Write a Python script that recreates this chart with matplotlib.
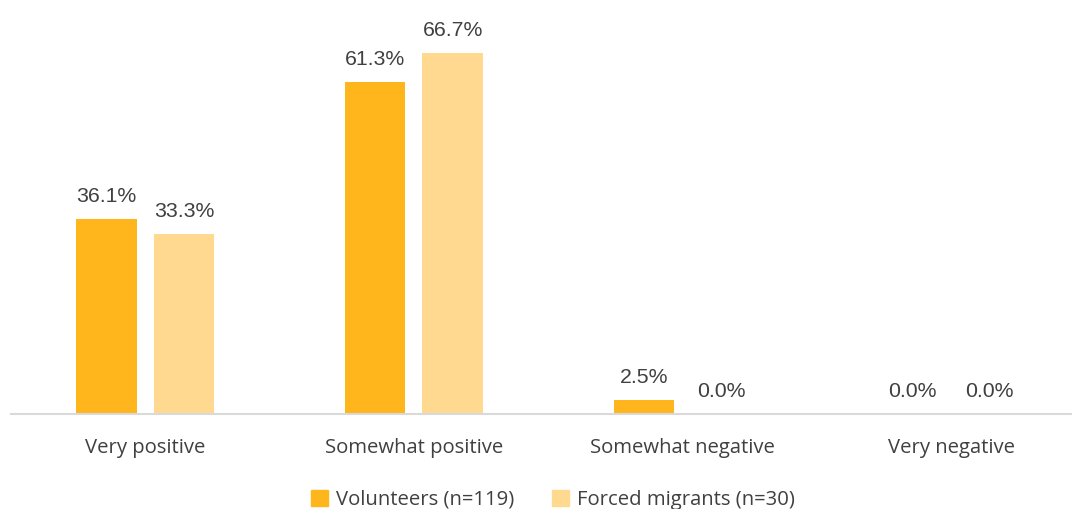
import numpy as np
import matplotlib.pyplot as plt
from matplotlib.patches import Patch

categories = ["Very positive", "Somewhat positive", "Somewhat negative", "Very negative"]
volunteers = [36.1, 61.3, 2.5, 0.0]
migrants = [33.3, 66.7, 0.0, 0.0]
series_names = ["Volunteers (n=119)", "Forced migrants (n=30)"]

c_dark = "#FFB61C"
c_light = "#FFD98F"
txt = "#404040"

fig = plt.figure(figsize=(10.72, 5.09), dpi=100)
ax = fig.add_axes([11 / 1072, 95 / 509, 1 - 11 / 1072, 414 / 509])

x = np.arange(len(categories))
off = 0.144
w = 0.225
b1 = ax.bar(x - off, volunteers, w, color=c_dark)
b2 = ax.bar(x + off, migrants, w, color=c_light)

for bars, vals in [(b1, volunteers), (b2, migrants)]:
    for r, v in zip(bars, vals):
        ax.annotate(f"{v:.1f}%", (r.get_x() + r.get_width() / 2, v),
                    xytext=(0, 9.5), textcoords="offset points", ha="center", va="bottom",
                    fontsize=15.3, color=txt, family="Liberation Sans")

ax.set_xlim(-0.5, 3.45)
ax.set_ylim(0, 414 / 5.41)
ax.set_xticks(x)
ax.set_xticklabels(categories, fontsize=14.6, color=txt, family="Open Sans")
ax.tick_params(axis="x", length=0, pad=17.5)
ax.set_yticks([])
for s in ["top", "right", "left"]:
    ax.spines[s].set_visible(False)
ax.spines["bottom"].set_color("#D9D9D9")
ax.spines["bottom"].set_linewidth(1.5)

handles = [Patch(color=c_dark), Patch(color=c_light)]
leg = fig.legend(handles, series_names, loc="center", bbox_to_anchor=(553 / 1072, 1 - 500 / 509),
                 ncol=2, frameon=False, handlelength=0.8, handleheight=0.8, handletextpad=0.4,
                 columnspacing=1.9, prop={"family": "Open Sans", "size": 14.6})
for t in leg.get_texts():
    t.set_color(txt)

fig.savefig("out.png", dpi=100)
